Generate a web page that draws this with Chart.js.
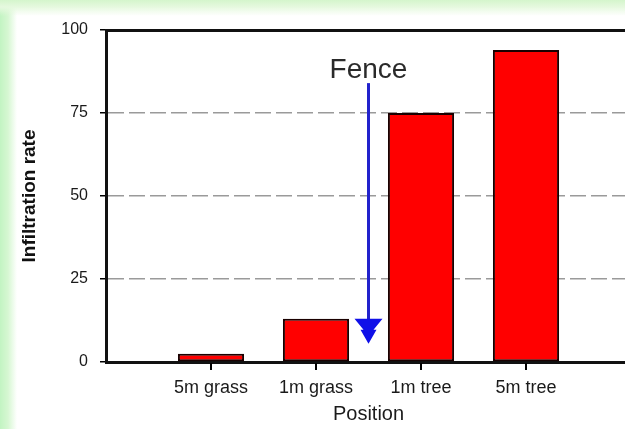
<!DOCTYPE html>
<html>
<head>
<meta charset="utf-8">
<script src="https://cdn.jsdelivr.net/npm/chart.js@4.4.1/dist/chart.umd.min.js"></script>
<style>
  html, body { margin: 0; padding: 0; width: 625px; height: 429px; overflow: hidden; }
  body {
    background:
      linear-gradient(to bottom, #d4f5cc 0px, #e6f9df 7px, rgba(255,255,255,0) 16px),
      linear-gradient(to right, #c2f4c2 0px, #d6f7d2 8px, #ffffff 17px);
  }
  #wrap { position: absolute; left: 0; top: 0; width: 660px; height: 429px; }
</style>
</head>
<body>
<div id="wrap"><canvas id="c"></canvas></div>
<script>
// ---- data ----
const categories = ['5m grass', '1m grass', '1m tree', '5m tree'];
const infiltration = [2.5, 13, 75, 94];
const yTicks = [0, 25, 50, 75, 100];
const xTitle = 'Position';
const yTitle = 'Infiltration rate';
// annotation: arrow between "1m grass" and "1m tree"
const fenceLabel = 'Fence';
const fenceIndex = 2.5;      // position on category axis (padded labels)
const fenceTextValue = 88;
const fenceStartValue = 84;
const fenceTipValue = 5.5;

// padded labels so the first bar sits one category from the y axis
const labels = [''].concat(categories, ['']);
const data = [null].concat(infiltration, [null]);

// tick marks under each category, placed by the x and y scales
const categoryTickPlugin = {
  id: 'catTicks',
  afterDraw(chart) {
    const ctx = chart.ctx;
    const xs = chart.scales.x;
    const base = chart.scales.y.getPixelForValue(0);
    ctx.save();
    ctx.fillStyle = '#000000';
    for (let i = 1; i <= categories.length; i++) {
      const px = xs.getPixelForValue(i);
      ctx.fillRect(Math.round(px) - 1, base + 1, 2, 7);
    }
    ctx.restore();
  }
};

const fencePlugin = {
  id: 'fence',
  afterDatasetsDraw(chart) {
    const {ctx, scales} = chart;
    const x = scales.x.getPixelForValue(fenceIndex);
    const yText = scales.y.getPixelForValue(fenceTextValue);
    const y0 = scales.y.getPixelForValue(fenceStartValue);
    const yTip = scales.y.getPixelForValue(fenceTipValue);
    ctx.save();
    ctx.font = '28px "Liberation Sans", Arial, sans-serif';
    ctx.fillStyle = '#2a2a2a';
    ctx.textAlign = 'center';
    ctx.textBaseline = 'middle';
    ctx.fillText(fenceLabel, x, yText);
    ctx.strokeStyle = '#2222cc';
    ctx.lineWidth = 3;
    ctx.beginPath();
    ctx.moveTo(x, y0);
    ctx.lineTo(x, yTip - 20);
    ctx.stroke();
    ctx.fillStyle = '#1010e8';
    ctx.beginPath();
    ctx.moveTo(x - 14, yTip - 25);
    ctx.lineTo(x + 14, yTip - 25);
    ctx.lineTo(x + 5, yTip - 14);
    ctx.lineTo(x + 8, yTip - 14);
    ctx.lineTo(x, yTip);
    ctx.lineTo(x - 8, yTip - 14);
    ctx.lineTo(x - 5, yTip - 14);
    ctx.closePath();
    ctx.fill();
    ctx.restore();
  }
};

new Chart(document.getElementById('c'), {
  type: 'bar',
  data: {
    labels: labels,
    datasets: [{
      label: yTitle,
      data: data,
      backgroundColor: '#ff0000',
      borderColor: '#1a0000',
      borderWidth: 2,
      borderSkipped: false,
      barPercentage: 0.63,
      categoryPercentage: 1.0
    }]
  },
  options: {
    responsive: true,
    maintainAspectRatio: false,
    animation: false,
    layout: { padding: { left: 12, top: 30, right: 29, bottom: 0 } },
    plugins: { legend: { display: false }, tooltip: { enabled: false } },
    scales: {
      x: {
        type: 'category',
        position: 'bottom',
        offset: false,
        afterFit(s) { s.height = 67; },
        grid: {
          display: true,
          offset: false,
          drawOnChartArea: false,
          drawTicks: true,
          tickLength: 6,
          tickColor: 'rgba(0,0,0,0)'
        },
        border: { display: true, color: '#111', width: 3 },
        ticks: {
          autoSkip: false,
          maxRotation: 0,
          padding: 9,
          color: '#1a1a1a',
          font: { family: '"Liberation Sans", Arial, sans-serif', size: 18 }
        },
        title: {
          display: true,
          text: xTitle,
          color: '#1a1a1a',
          padding: { top: 0, bottom: 3 },
          font: { family: '"Liberation Sans", Arial, sans-serif', size: 20 }
        }
      },
      xTop: {
        type: 'category',
        position: 'top',
        offset: false,
        afterFit(s) { s.height = 0; },
        grid: { display: false, drawTicks: false },
        border: { display: true, color: '#111', width: 3 },
        ticks: { display: false }
      },
      y: {
        type: 'linear',
        min: 0,
        max: 100,
        afterFit(s) { s.width = 94; },
        afterBuildTicks(s) { s.ticks = yTicks.map(v => ({ value: v })); },
        grid: {
          color: (c) => (c.tick && (c.tick.value === 0 || c.tick.value === 100)) ? 'rgba(0,0,0,0)' : '#9a9a9a',
          lineWidth: 1.5,
          tickColor: '#000',
          tickWidth: 1.5,
          tickLength: 6
        },
        border: { display: true, color: '#111', width: 3, dash: [16, 5] },
        ticks: {
          padding: 12,
          color: '#1a1a1a',
          font: { family: '"Liberation Sans", Arial, sans-serif', size: 16 }
        },
        title: {
          display: true,
          text: yTitle,
          color: '#111',
          padding: 6,
          font: { family: '"Liberation Sans", Arial, sans-serif', size: 19, weight: 'bold' }
        }
      }
    }
  },
  plugins: [fencePlugin, categoryTickPlugin]
});
</script>
</body>
</html>
